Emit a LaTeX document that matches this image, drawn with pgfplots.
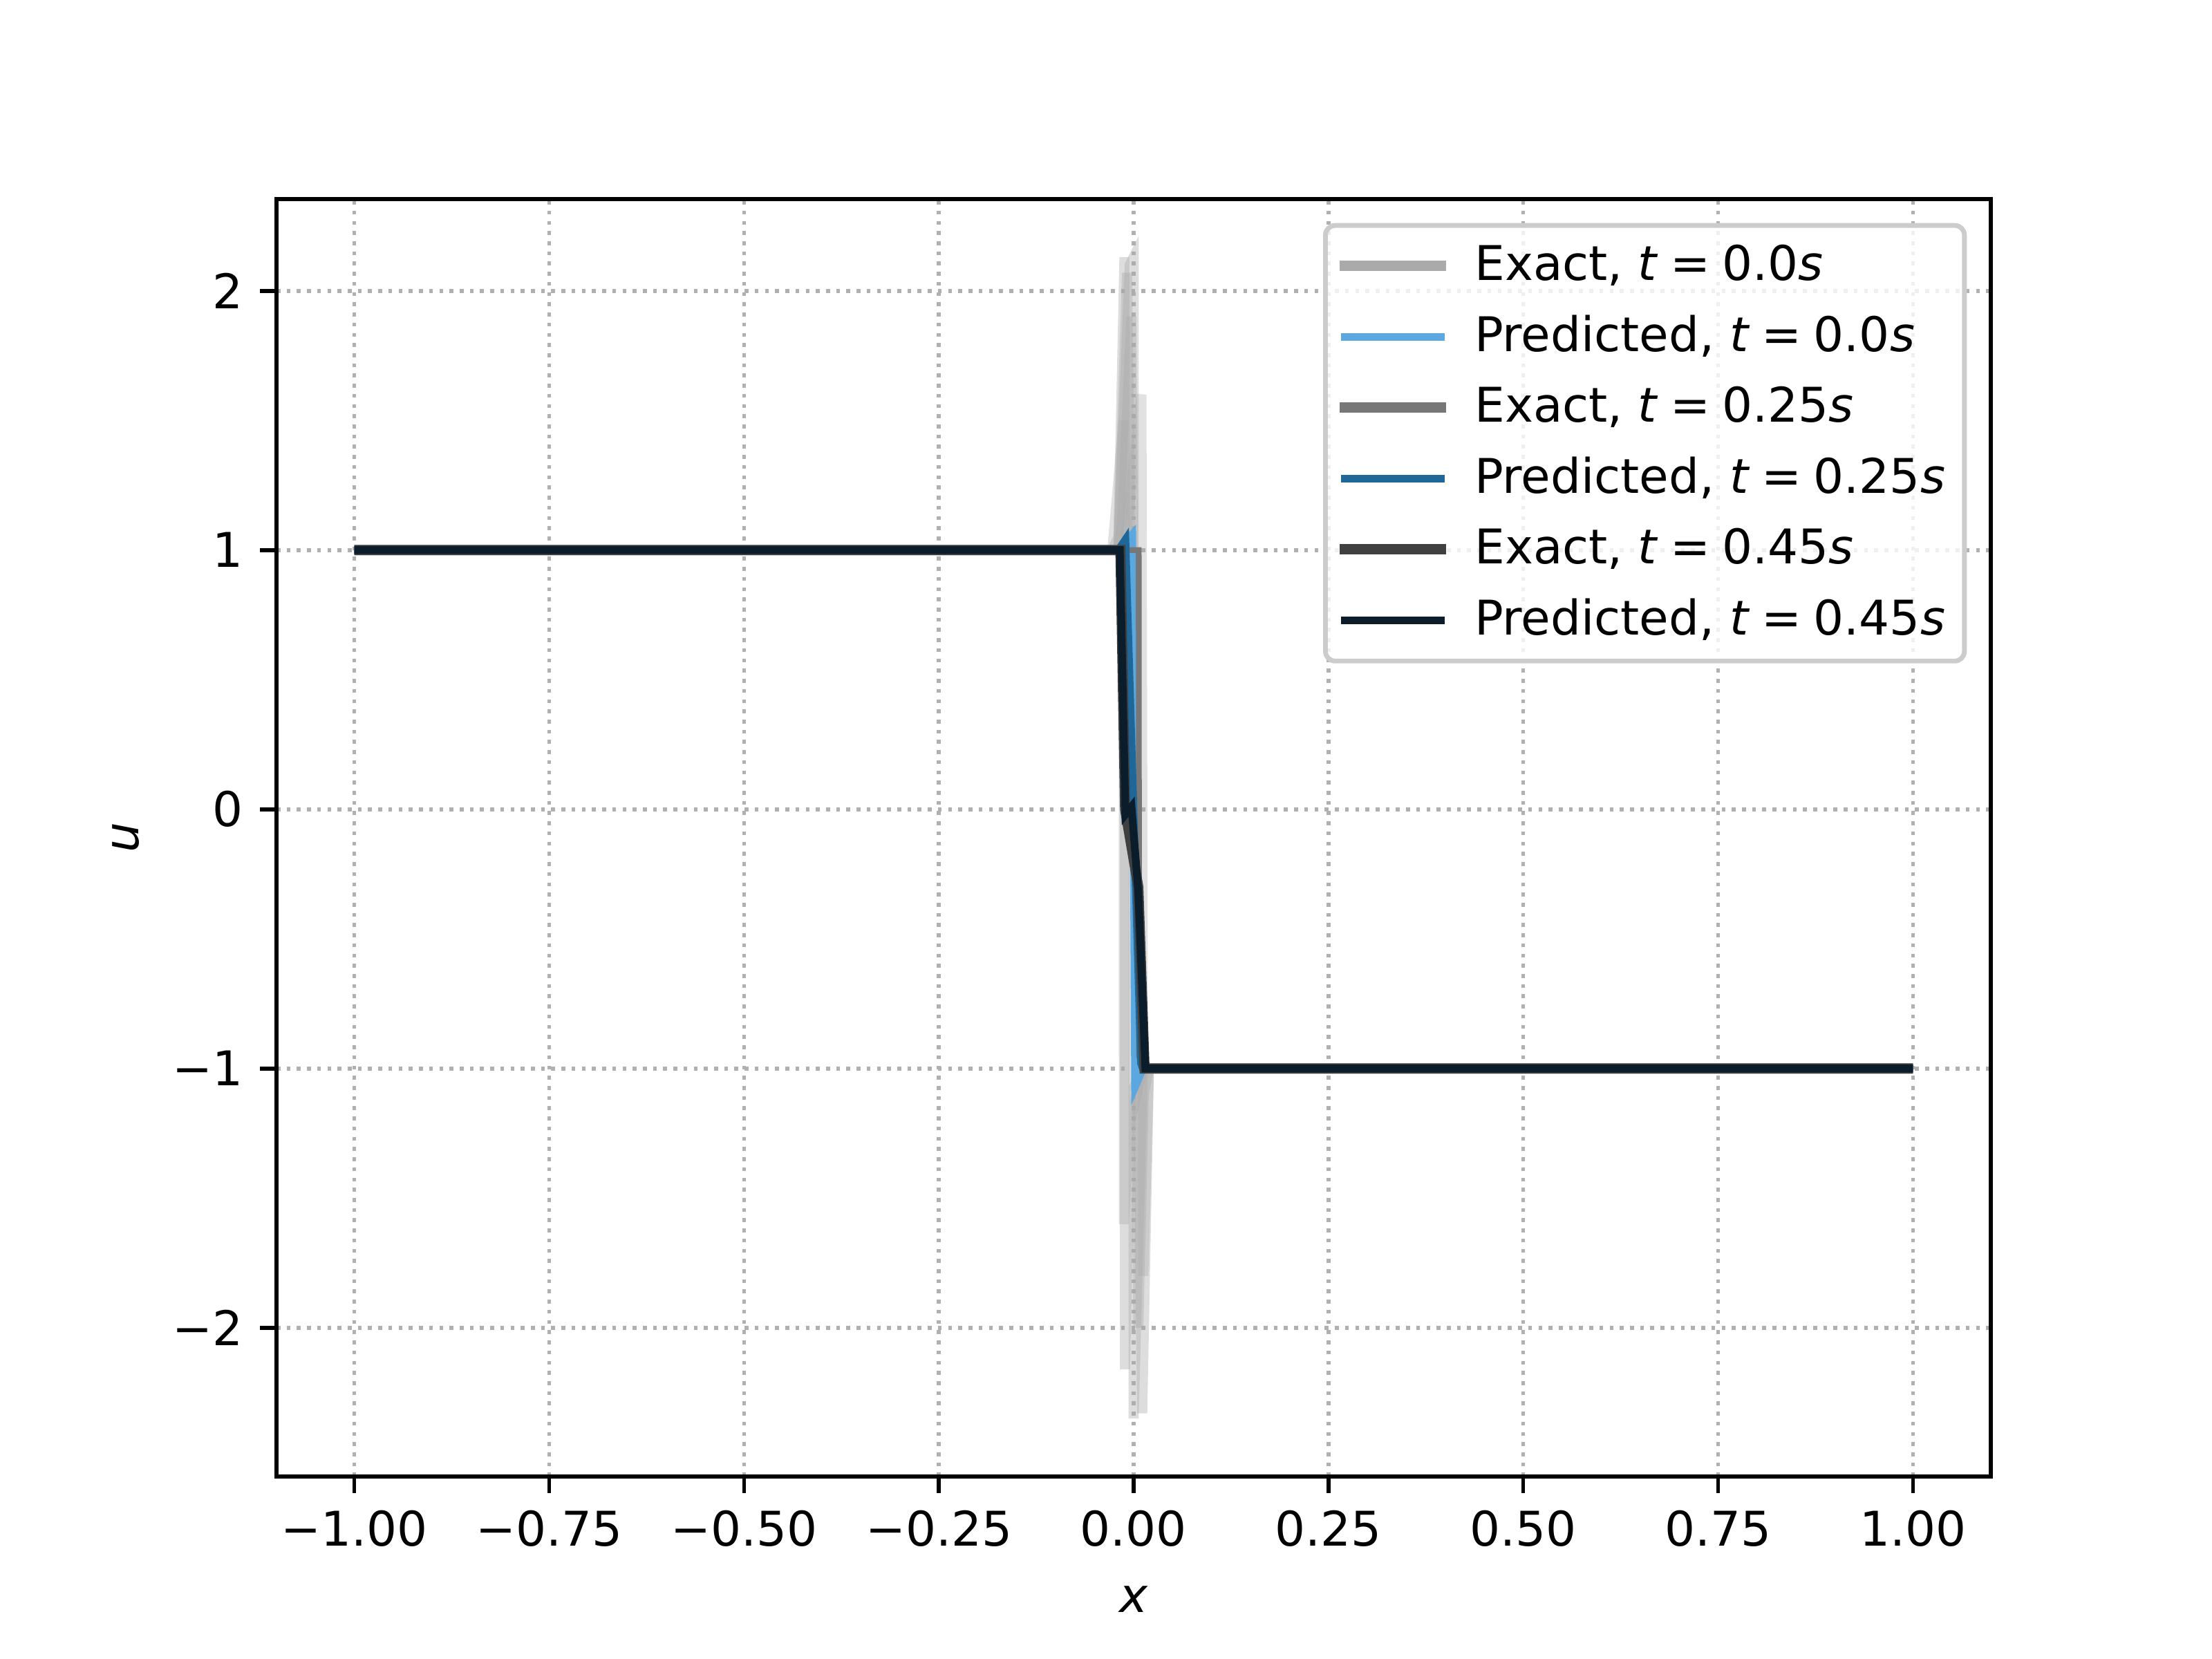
\documentclass[border=0pt]{standalone}
\usepackage{fontspec}
\setmainfont{DejaVu Sans}
\usepackage{pgfplots}
\pgfplotsset{compat=1.18}

\definecolor{exA}{HTML}{AAAAAA}
\definecolor{exB}{HTML}{777777}
\definecolor{exC}{HTML}{404040}
\definecolor{prA}{HTML}{5AA8DF}
\definecolor{prB}{HTML}{1F6699}
\definecolor{prC}{HTML}{0B1C2B}
\definecolor{gridc}{HTML}{B0B0B0}
\definecolor{legc}{HTML}{CCCCCC}

\newcommand{\teq}[1]{\textit{t}\hspace{0.25em}=\hspace{0.25em}#1\textit{s}}

\begin{document}
\begin{tikzpicture}
\begin{axis}[
    scale only axis,
    width=4.96in, height=3.696in,
    xmin=-1.1, xmax=1.1,
    ymin=-2.574, ymax=2.354,
    xtick={-1,-0.75,-0.5,-0.25,0,0.25,0.5,0.75,1},
    xticklabels={−1.00,−0.75,−0.50,−0.25,0.00,0.25,0.50,0.75,1.00},
    ytick={-2,-1,0,1,2},
    yticklabels={−2,−1,0,1,2},
    tick pos=left, tick align=outside,
    major tick length=3.5bp,
    every tick/.style={black, line width=0.8bp},
    axis line style={line width=0.8bp},
    grid=major,
    major grid style={color=gridc, line width=0.8bp, dash pattern=on 0.8bp off 1.32bp},
    tick label style={font=\fontsize{10}{12}\selectfont},
    xlabel={\textit{x}}, ylabel={\textit{u}},
    label style={font=\fontsize{10}{12}\selectfont},
    xlabel style={yshift=-1.5bp},
    legend cell align=left,
    legend image code/.code={\draw[#1, line cap=rect] (0bp,0bp) -- (20bp,0bp); \path (-1bp,0bp) (24bp,0bp);},
    legend style={at={(1,1)}, anchor=north east, xshift=-5bp, yshift=-5bp,
        draw=legc, line width=1bp, rounded corners=2bp,
        fill=white, fill opacity=0.8, text opacity=1,
        font=\fontsize{10}{12}\selectfont,
        inner xsep=2bp, inner ysep=2bp, row sep=1.8pt},
]
\addlegendimage{exA, line width=2.1bp}
\addlegendentry{Exact, \teq{0.0}}
\addlegendimage{prA, line width=1.6bp}
\addlegendentry{Predicted, \teq{0.0}}
\addlegendimage{exB, line width=2.1bp}
\addlegendentry{Exact, \teq{0.25}}
\addlegendimage{prB, line width=1.6bp}
\addlegendentry{Predicted, \teq{0.25}}
\addlegendimage{exC, line width=2.1bp}
\addlegendentry{Exact, \teq{0.45}}
\addlegendimage{prC, line width=1.6bp}
\addlegendentry{Predicted, \teq{0.45}}

% exact, t = 0.0 (oscillating near the shock)
\addplot[forget plot, exA, line width=2.1bp, opacity=0.4] coordinates {
(-1,1) (-0.0274,1) (-0.0196,1.05) (-0.0118,2.13) (-0.0112,-2.16) (-0.0039,-1.2) (0.0118,-1) (1,-1)};
\addplot[forget plot, exA, line width=2.1bp, opacity=0.4] coordinates {
(-1,1) (-0.0196,1) (-0.0050,2.10) (0.0,2.13) (0.0,-2.35) (0.0118,-1) (1,-1)};
\addplot[forget plot, exA, line width=2.1bp, opacity=0.4] coordinates {
(-1,1) (-0.0196,1) (-0.0085,2.07) (0.0110,-2.33) (0.0196,-1) (1,-1)};
\addplot[forget plot, exA, line width=2.1bp, opacity=0.4] coordinates {
(-1,1) (-0.0196,1) (-0.0150,1.1) (-0.0030,1.9) (0.0060,-2.0) (0.0130,-1.1) (0.0196,-1) (1,-1)};
\addplot[forget plot, exA, line width=2.1bp, opacity=0.35] coordinates {
(-1,1) (-0.0274,1) (-0.0130,1.5) (-0.0125,-1.6) (-0.0039,-1.1) (0.0118,-1) (1,-1)};
\addplot[forget plot, exA, line width=2.1bp, opacity=0.35] coordinates {
(-1,1) (-0.0118,1) (0.0100,1.6) (0.0125,-1.8) (0.0196,-1) (1,-1)};
% predicted, t = 0.0
\addplot[forget plot, prA, line width=1.6bp] coordinates {
(-1,1) (-0.0196,1) (-0.0018,1.06) (0.0018,-1.07) (0.0118,-1) (1,-1)};
% exact, t = 0.25
\addplot[forget plot, exB, line width=1.2bp] coordinates {
(-1,1) (-0.0196,1) (0.0065,1.0) (0.0070,-0.95) (0.0118,-1) (1,-1)};
% predicted, t = 0.25
\addplot[forget plot, prB, line width=1.6bp] coordinates {
(-1,1) (-0.0196,1) (-0.0106,1.04) (0.0095,-0.98) (0.0118,-1) (1,-1)};
% exact, t = 0.45
\addplot[forget plot, exC, line width=2.1bp] coordinates {
(-1,1) (-0.0170,1) (-0.0110,0) (0.0060,-0.3) (0.0140,-1) (1,-1)};
% predicted, t = 0.45
\addplot[forget plot, prC, line width=1.6bp] coordinates {
(-1,1) (-0.0177,1.0) (-0.0106,-0.02) (-0.0027,0.01) (0.0060,-0.32) (0.0150,-1.0) (1,-1)};
\end{axis}
\path (current axis.south west) ++(-0.8in,-0.528in);
\path (current axis.north east) ++(0.64in,0.576in);
\end{tikzpicture}
\end{document}
